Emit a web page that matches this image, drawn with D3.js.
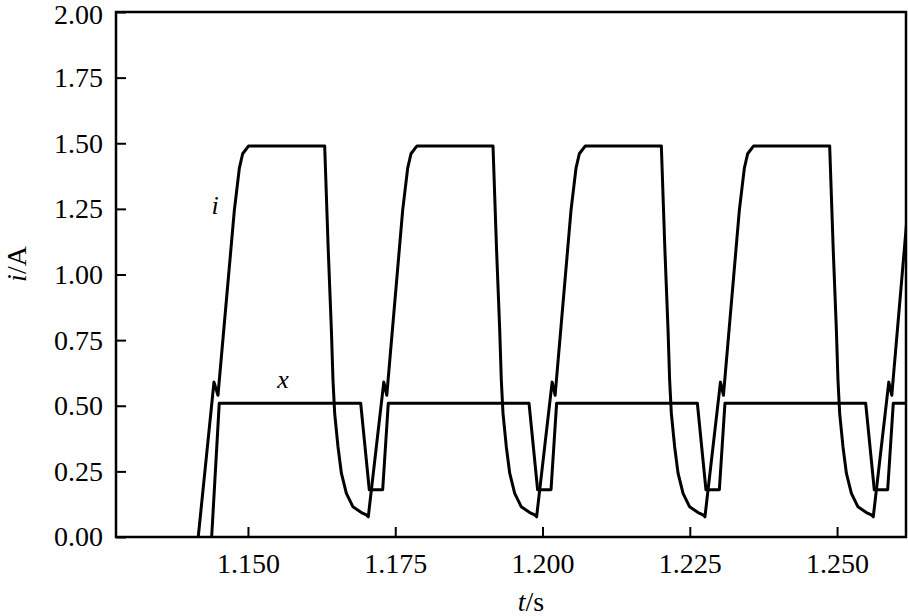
<!DOCTYPE html>
<html>
<head>
<meta charset="utf-8">
<script src="https://cdn.jsdelivr.net/npm/d3@7"></script>
<style>
  html, body { margin: 0; padding: 0; background: #fff; }
  svg { display: block; }
  text { font-family: "Liberation Serif", "Times New Roman", serif; fill: #000; }
</style>
</head>
<body>
<svg id="chart" width="908" height="616"></svg>
<script>
// ---- data ----
const currentTime = [
  1.14156, 1.14423, 1.14491, 1.147691, 1.148540, 1.149101, 1.150119, 1.163022, 1.163617, 1.164160,
  1.164432, 1.164720, 1.165281, 1.165857, 1.166707, 1.167827, 1.169253, 1.170102, 1.170424,
  1.173056, 1.173565, 1.176264, 1.177113, 1.177674, 1.178692, 1.191595, 1.192190, 1.192733,
  1.193005, 1.193293, 1.193854, 1.194430, 1.195280, 1.196400, 1.197826, 1.198675, 1.198998,
  1.201630, 1.202139, 1.204838, 1.205687, 1.206248, 1.207266, 1.220169, 1.220764, 1.221307,
  1.221579, 1.221867, 1.222428, 1.223004, 1.223854, 1.224974, 1.226400, 1.227249, 1.227572,
  1.230204, 1.230713, 1.233412, 1.234261, 1.234822, 1.235840, 1.248743, 1.249338, 1.249881,
  1.250153, 1.250441, 1.251002, 1.251578, 1.252428, 1.253548, 1.254974, 1.255823, 1.256146,
  1.258778, 1.259287, 1.261986
];
const currentValue = [
  0.000, 0.590, 0.540, 1.245, 1.405, 1.460, 1.490, 1.490, 1.100, 0.789,
  0.598, 0.471, 0.344, 0.243, 0.166, 0.115, 0.093, 0.084, 0.077,
  0.590, 0.540, 1.245, 1.405, 1.460, 1.490, 1.490, 1.100, 0.789,
  0.598, 0.471, 0.344, 0.243, 0.166, 0.115, 0.093, 0.084, 0.077,
  0.590, 0.540, 1.245, 1.405, 1.460, 1.490, 1.490, 1.100, 0.789,
  0.598, 0.471, 0.344, 0.243, 0.166, 0.115, 0.093, 0.084, 0.077,
  0.590, 0.540, 1.245, 1.405, 1.460, 1.490, 1.490, 1.100, 0.789,
  0.598, 0.471, 0.344, 0.243, 0.166, 0.115, 0.093, 0.084, 0.077,
  0.590, 0.540, 1.245
];
const xTime = [
  1.143837, 1.145127,
  1.169134, 1.170594, 1.172869, 1.173820,
  1.197708, 1.199168, 1.201443, 1.202394,
  1.226282, 1.227742, 1.230017, 1.230968,
  1.254856, 1.256316, 1.258591, 1.259542,
  1.261700
];
const xValue = [
  0.00, 0.51,
  0.51, 0.18, 0.18, 0.51,
  0.51, 0.18, 0.18, 0.51,
  0.51, 0.18, 0.18, 0.51,
  0.51, 0.18, 0.18, 0.51,
  0.51
];
const yTickValues = [0, 0.25, 0.5, 0.75, 1.0, 1.25, 1.5, 1.75, 2.0];
const xTickValues = [1.150, 1.175, 1.200, 1.225, 1.250];
const xDomain = [1.1276, 1.2617];
const yDomain = [0, 2];

// ---- layout ----
const mLeft = 116, mRight = 906, mTop = 12, mBottom = 537;
const svg = d3.select("#chart");
const x = d3.scaleLinear().domain(xDomain).range([mLeft, mRight]);
const y = d3.scaleLinear().domain(yDomain).range([mBottom, mTop]);

svg.append("rect").attr("width", 908).attr("height", 616).attr("fill", "#fff");

svg.append("defs").append("clipPath").attr("id", "plotclip")
  .append("rect").attr("x", mLeft).attr("y", mTop - 2).attr("width", mRight - mLeft).attr("height", mBottom - mTop + 2);

// axes
const fontSize = 28;
const yAxis = d3.axisLeft(y).tickValues(yTickValues).tickSize(-10).tickPadding(13)
  .tickFormat(d3.format(".2f"));
const gy = svg.append("g").attr("transform", `translate(${mLeft},0)`).call(yAxis);
gy.select(".domain").remove();
gy.selectAll(".tick line").attr("stroke", "#000").attr("stroke-width", 2);
gy.selectAll(".tick text").attr("font-size", fontSize).attr("font-family", "Liberation Serif").attr("fill", "#000");
// keep the top label fully inside the canvas
gy.selectAll(".tick text").filter(d => d === 2).attr("transform", "translate(0,3)");

const xAxis = d3.axisBottom(x).tickValues(xTickValues).tickSize(-10).tickPadding(16)
  .tickFormat(d3.format(".3f"));
const gx = svg.append("g").attr("transform", `translate(0,${mBottom})`).call(xAxis);
gx.select(".domain").remove();
gx.selectAll(".tick line").attr("stroke", "#000").attr("stroke-width", 2);
gx.selectAll(".tick text").attr("font-size", fontSize).attr("font-family", "Liberation Serif").attr("fill", "#000");

// frame
svg.append("rect").attr("x", mLeft).attr("y", mTop).attr("width", mRight - mLeft).attr("height", mBottom - mTop)
  .attr("fill", "none").attr("stroke", "#000").attr("stroke-width", 2.5);

// series
const line = d3.line().x(d => x(d[0])).y(d => y(d[1]));
const iData = currentTime.map((t, k) => [t, currentValue[k]]);
const xData = xTime.map((t, k) => [t, xValue[k]]);
const plot = svg.append("g").attr("clip-path", "url(#plotclip)");
plot.append("path").datum(xData).attr("d", line)
  .attr("fill", "none").attr("stroke", "#000").attr("stroke-width", 3).attr("stroke-linejoin", "round");
plot.append("path").datum(iData).attr("d", line)
  .attr("fill", "none").attr("stroke", "#000").attr("stroke-width", 3).attr("stroke-linejoin", "round");

// curve labels
svg.append("text").attr("x", 215).attr("y", 214).attr("text-anchor", "middle")
  .attr("font-size", 26).attr("font-style", "italic").text("i");
svg.append("text").attr("x", 283).attr("y", 388).attr("text-anchor", "middle")
  .attr("font-size", 26).attr("font-style", "italic").text("x");

// axis titles
const yt = svg.append("text").attr("transform", "translate(26,264) rotate(-90)")
  .attr("text-anchor", "middle").attr("font-size", fontSize);
yt.append("tspan").attr("font-style", "italic").text("i");
yt.append("tspan").text("/A");

const xt = svg.append("text").attr("x", 531).attr("y", 611)
  .attr("text-anchor", "middle").attr("font-size", fontSize);
xt.append("tspan").attr("font-style", "italic").text("t");
xt.append("tspan").text("/s");
</script>
</body>
</html>
